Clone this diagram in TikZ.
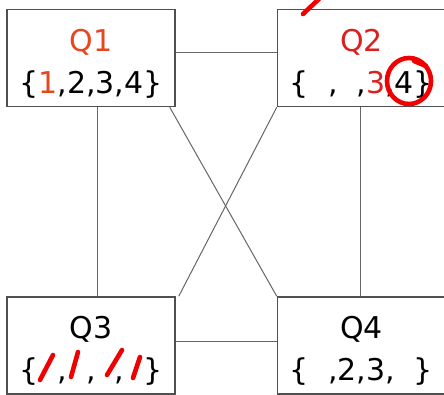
\documentclass[tikz,border=0pt]{standalone}
\usepackage{xcolor}
\usepackage{fontspec}
\setmainfont{DejaVu Sans}
\usetikzlibrary{positioning}
\definecolor{quadgray}{HTML}{505050}
\definecolor{linkgray}{HTML}{666666}
\definecolor{qorange}{HTML}{E8461E}
\definecolor{qred}{HTML}{DC2020}
\definecolor{penred}{HTML}{F00000}
\newcommand{\gap}{\phantom{1}}
\newcommand{\lift}{\rule{0pt}{33pt}}

\begin{document}
\begin{tikzpicture}[
  x=1pt, y=-1pt,
  quad/.style={draw=quadgray, line width=1.5pt, fill=white, align=center,
               minimum width=168pt, minimum height=97pt, inner sep=0pt,
               font=\fontsize{30}{42}\selectfont},
  link/.style={draw=linkgray, line width=1pt},
  redpen/.style={draw=penred, line width=4.6pt, line cap=round}
]
\useasboundingbox (0,0) rectangle (444,395);
\node[quad] (q1) at (91,58) {\lift\textcolor{qorange}{Q1}\\\{\textcolor{qorange}{1},2,3,4\}};
\node[quad, right=101pt of q1] (q2) {\lift\textcolor{qred}{Q2}\\\{\gap,\gap,\textcolor{qred}{3},4\}};
\node[quad, below=189pt of q1] (q3) {\lift Q3\\\{\gap,\gap,\gap,\gap\}};
\node[quad, right=101pt of q3] (q4) {\lift Q4\\\{\gap,2,3,\gap\}};
% links between the quadrants
\draw[link] ([yshift=5pt]q1.east) -- ([yshift=5pt]q2.west);
\draw[link] ([yshift=4pt]q3.east) -- ([yshift=4pt]q4.west);
\draw[link] ([xshift=6pt]q1.south) -- ([xshift=6pt]q3.north);
\draw[link] ([xshift=-1pt]q2.south) -- ([xshift=-1pt]q4.north);
\draw[link] ([xshift=-6pt]q1.south east) -- (q4.north west);
\draw[link] (q2.south west) -- ([xshift=3pt]q3.north east);
% hand-drawn red marks
\draw[redpen] (303,14) -- (320,-2);
\draw[redpen] (409,81) ellipse (22 and 23);
\draw[redpen] (414,61) -- (426,66);
\draw[redpen] (40,380) -- (53,355);
\draw[redpen] (71,377) -- (78,352);
\draw[redpen] (107,375) -- (122,350);
\draw[redpen] (133,378) -- (140,357);
\end{tikzpicture}
\end{document}
